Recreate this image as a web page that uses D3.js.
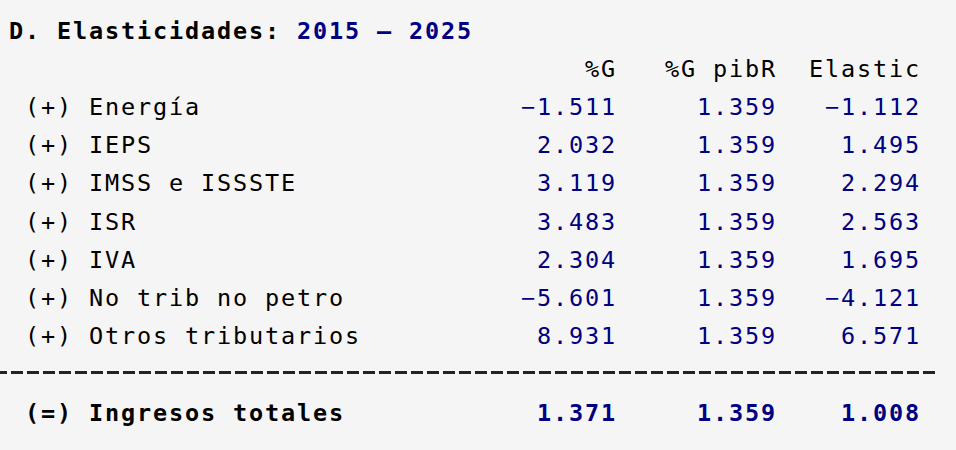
<!DOCTYPE html>
<html>
<head>
<meta charset="utf-8">
<script src="https://cdn.jsdelivr.net/npm/d3@7"></script>
<style>
  html, body { margin: 0; padding: 0; background: #f5f5f5; }
  svg text { font-family: "DejaVu Sans Mono", monospace; font-size: 23.5px; letter-spacing: 1.85px; }
</style>
</head>
<body>
<div id="chart"></div>
<script>
const titleText = "D. Elasticidades: ";
const titlePeriod = "2015 – 2025";
const headers = ["%G", "%G pibR", "Elastic"];
const labels = ["(+) Energía", "(+) IEPS", "(+) IMSS e ISSSTE", "(+) ISR", "(+) IVA",
                "(+) No trib no petro", "(+) Otros tributarios"];
const pctG = [-1.511, 2.032, 3.119, 3.483, 2.304, -5.601, 8.931];
const pctGpib = [1.359, 1.359, 1.359, 1.359, 1.359, 1.359, 1.359];
const elastic = [-1.112, 1.495, 2.294, 2.563, 1.695, -4.121, 6.571];
const totalLabel = "(=) Ingresos totales";
const totalValues = [1.371, 1.359, 1.008];

const width = 956, height = 450;
const navy = "#000080";
const fmt = d3.format(".3f");

// monospace grid: column -> x, line -> baseline y
const colX = d3.scaleLinear().domain([0, 1]).range([9, 25]);
const lineY = d3.scaleLinear().domain([0, 1]).range([38.5, 76.7]);
const colEnds = [38, 48, 57];   // right edge (in chars) of each numeric column

const svg = d3.select("#chart").append("svg")
    .attr("width", width)
    .attr("height", height);

// title
const title = svg.append("text")
    .attr("x", colX(0))
    .attr("y", lineY(0))
    .style("font-weight", "bold");
title.append("tspan").attr("fill", "#000").text(titleText);
title.append("tspan").attr("fill", navy).text(titlePeriod);

// headers, right aligned on the char grid
svg.selectAll("text.header")
    .data(headers)
    .join("text")
    .attr("class", "header")
    .attr("x", (d, i) => colX(colEnds[i] - d.length))
    .attr("y", lineY(1))
    .attr("fill", "#000")
    .text(d => d);

// body rows
const rows = labels.map((l, i) => ({ label: l, vals: [pctG[i], pctGpib[i], elastic[i]], line: i + 2 }));

const rowG = svg.selectAll("g.row")
    .data(rows)
    .join("g")
    .attr("class", "row");

rowG.append("text")
    .attr("x", colX(1))
    .attr("y", d => lineY(d.line))
    .attr("fill", "#000")
    .text(d => d.label);

rowG.selectAll("text.val")
    .data(d => d.vals.map((v, j) => ({ s: fmt(v), j, line: d.line })))
    .join("text")
    .attr("class", "val")
    .attr("x", d => colX(colEnds[d.j] - d.s.length))
    .attr("y", d => lineY(d.line))
    .attr("fill", navy)
    .text(d => d.s);

// separator
svg.append("line")
    .attr("x1", -5).attr("x2", 936)
    .attr("y1", 372.5).attr("y2", 372.5)
    .attr("stroke", "#222")
    .attr("stroke-width", 3)
    .attr("stroke-dasharray", "12 4");

// total row
const totLine = labels.length + 3;
svg.append("text")
    .attr("x", colX(1))
    .attr("y", lineY(totLine))
    .attr("fill", "#000")
    .style("font-weight", "bold")
    .text(totalLabel);

svg.selectAll("text.tot")
    .data(totalValues.map((v, j) => ({ s: fmt(v), j })))
    .join("text")
    .attr("class", "tot")
    .attr("x", d => colX(colEnds[d.j] - d.s.length))
    .attr("y", lineY(totLine))
    .attr("fill", navy)
    .style("font-weight", "bold")
    .text(d => d.s);
</script>
</body>
</html>
